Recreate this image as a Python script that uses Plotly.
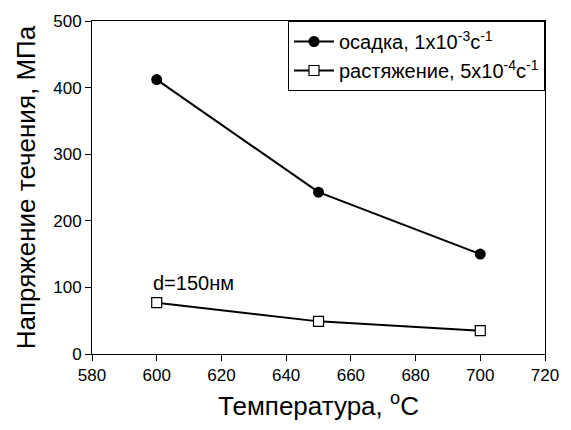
import plotly.graph_objects as go

temps = [600, 650, 700]
osadka = [412, 243, 150]
rastyazh = [77, 49, 35]
name_osadka = "осадка, 1x10<sup>-3</sup>c<sup>-1</sup>"
name_rast = "растяжение, 5x10<sup>-4</sup>c<sup>-1</sup>"
x_ticks = [580, 600, 620, 640, 660, 680, 700, 720]
y_ticks = [0, 100, 200, 300, 400, 500]

fig = go.Figure()
fig.add_trace(go.Scatter(x=temps, y=osadka, mode="lines+markers", name=name_osadka,
                         line=dict(color="black", width=2),
                         marker=dict(symbol="circle", size=11, color="black")))
fig.add_trace(go.Scatter(x=temps, y=rastyazh, mode="lines+markers", name=name_rast,
                         line=dict(color="black", width=2),
                         marker=dict(symbol="square", size=10, color="white",
                                     line=dict(color="black", width=1.2))))

fig.add_annotation(x=600, y=106, xref="x", yref="y", text="d=150нм", showarrow=False,
                   xanchor="left", xshift=-6, font=dict(size=20, color="black"))

fig.update_layout(
    width=571, height=430,
    margin=dict(l=92, r=16, t=20, b=76),
    paper_bgcolor="white", plot_bgcolor="white",
    font=dict(family="Liberation Sans, Arial, sans-serif", color="black", size=17),
    legend=dict(x=1, y=1, xanchor="right", yanchor="top", bgcolor="white",
                bordercolor="black", borderwidth=1, font=dict(size=20),
                itemwidth=40, tracegroupgap=2),
    showlegend=True,
)
fig.update_xaxes(range=[580, 720], tickvals=x_ticks, ticks="outside", ticklen=6,
                 tickcolor="black", showline=True, linecolor="black", linewidth=1,
                 mirror=True, showgrid=False, zeroline=False,
                 title=dict(text="Температура, <sup>o</sup>C", font=dict(size=26), standoff=12),
                 tickfont=dict(size=17))
fig.update_yaxes(range=[0, 500], tickvals=y_ticks, ticks="outside", ticklen=6,
                 tickcolor="black", showline=True, linecolor="black", linewidth=1,
                 mirror=True, showgrid=False, zeroline=False,
                 title=dict(text="Напряжение течения, МПа", font=dict(size=26), standoff=10),
                 tickfont=dict(size=17))

fig.write_html("out.html", config={"displayModeBar": False},
               post_script="document.body.style.margin='0';document.body.style.overflow='hidden';document.documentElement.style.overflow='hidden';")
